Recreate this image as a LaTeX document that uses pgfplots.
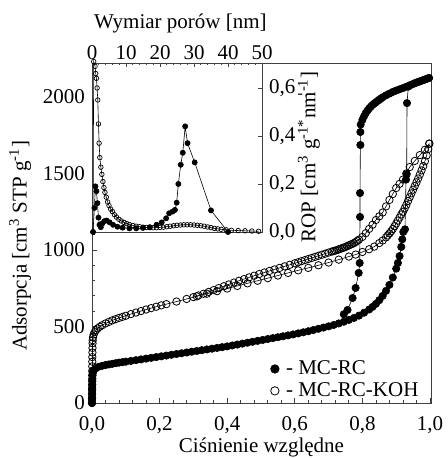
\documentclass[border=0pt]{standalone}
\usepackage{fontspec}
\setmainfont{Liberation Serif}
\usepackage{pgfplots}
\pgfplotsset{compat=1.18}
\newcommand{\fs}{\fontsize{10.5}{12.6}\selectfont}
\begin{document}
\begin{tikzpicture}
% ---------------- main axis ----------------
\begin{axis}[
  at={(0,0)}, anchor=south west,
  scale only axis, width=169.5pt, height=170pt,
  xmin=0, xmax=1.003, ymin=0, ymax=2222,
  xtick={0,0.2,0.4,0.6,0.8,1.0},
  ytick={0,500,1000,1500,2000},
  minor x tick num=4, minor y tick num=4,
  tick align=inside, xtick pos=lower, ytick pos=left,
  major tick length=2.5pt, minor tick length=1.5pt,
  axis line style={black!75}, every tick/.style={black!75},
  /pgf/number format/assume math mode=true,
  xticklabel style={yshift=-3.3pt, /pgf/number format/.cd, fixed, fixed zerofill, precision=1, use comma},
  yticklabel style={/pgf/number format/.cd, 1000 sep={}},
  tick label style={font=\fs},
  label style={font=\fs},
  xlabel={Ciśnienie względne},
  ylabel={Adsorpcja [cm\textsuperscript{3} STP g\textsuperscript{-1}]},
  xlabel style={at={(axis description cs:0.5,-0.13)}, anchor=center},
  ylabel style={at={(axis description cs:-0.212,0.462)}, anchor=center},
  legend style={at={(axis description cs:0.52,-0.008)}, anchor=south west, draw=none, fill=none, font=\fs, row sep=-1.5pt, inner sep=1pt, nodes={inner xsep=3.5pt}},
  legend cell align=left,
]
% MC-RC-KOH adsorption (lower branch)
\addplot[forget plot, black, line width=0.3pt, mark=o, mark size=1.85pt, mark options={fill=white, line width=0.4pt}] coordinates {
(0,0)(0.0001,30)(0.0002,60)(0.0003,90)(0.0004,120)(0.0005,150)(0.0006,180)(0.0007,210)(0.0008,240)(0.0009,270)(0.001,300)(0.0012,330)(0.0014,360)(0.0017,390)
(0.002,410)(0.003,430)(0.005,448)(0.008,463)(0.012,476)(0.017,488)(0.023,498)(0.03,508)(0.04,520)(0.05,530)(0.06,540)(0.07,548)(0.08,556)(0.09,563)(0.10,570)
(0.115,581)(0.13,591)(0.145,601)(0.16,611)(0.175,620)(0.19,629)(0.205,638)(0.22,646)(0.25,663)(0.28,680)(0.31,697)(0.34,714)(0.37,731)(0.40,748)(0.43,765)
(0.46,782)(0.49,799)(0.52,816)(0.55,833)(0.58,850)(0.61,867)(0.64,883)(0.67,900)(0.70,918)(0.73,937)(0.76,957)(0.78,970)(0.80,987)
(0.82,1005)(0.835,1022)(0.85,1045)(0.86,1062)(0.87,1082)(0.875,1095)(0.88,1108)(0.885,1122)(0.89,1137)(0.895,1155)(0.90,1173)(0.905,1192)(0.91,1212)(0.915,1232)
(0.92,1250)(0.925,1272)(0.93,1295)(0.935,1320)(0.94,1345)(0.945,1370)(0.95,1394)(0.955,1418)(0.96,1442)(0.965,1467)(0.97,1493)(0.975,1520)(0.98,1548)(0.985,1580)
(0.99,1618)(0.995,1660)(0.998,1695)};
% MC-RC-KOH desorption (upper branch)
\addplot[forget plot, black, line width=0.3pt, mark=o, mark size=1.85pt, mark options={fill=white, line width=0.4pt}] coordinates {
(0.998,1695)(0.985,1655)(0.97,1620)(0.955,1582)(0.94,1542)(0.93,1500)(0.92,1460)(0.91,1432)(0.90,1405)(0.89,1366)(0.88,1327)(0.87,1285)(0.86,1245)(0.85,1220)
(0.84,1196)(0.83,1165)(0.82,1138)(0.81,1110)(0.80,1085)(0.79,1068)(0.785,1060)(0.78,1052)(0.775,1045)(0.77,1040)(0.765,1035)(0.76,1030)(0.755,1025)(0.75,1020)
(0.745,1016)(0.74,1012)(0.735,1008)(0.73,1004)(0.725,1000)(0.72,996)(0.715,993)(0.71,990)(0.70,983)(0.69,976)(0.68,969)(0.67,962)(0.66,955)(0.65,948)(0.64,941)
(0.63,934)(0.62,927)(0.61,920)(0.60,913)(0.585,903)(0.57,893)(0.555,883)(0.54,873)(0.525,863)(0.51,853)(0.495,843)(0.48,832)(0.465,821)(0.45,810)(0.435,799)
(0.42,787)(0.405,775)(0.39,763)(0.375,751)(0.36,738)(0.345,726)(0.33,714)(0.315,703)(0.30,692)};
% MC-RC adsorption
\addplot[forget plot, black, line width=0.3pt, mark=*, mark size=1.85pt, mark options={fill=black}] coordinates {
(0,0)(0.0001,20)(0.0002,40)(0.0003,60)(0.0004,80)(0.0005,100)(0.0006,120)(0.0008,140)(0.001,160)(0.0015,180)(0.002,195)(0.003,205)
(0.005,215)(0.01,225)(0.02,237)(0.03,243)(0.04,248)(0.05,252)(0.06,256)(0.07,260)(0.08,264)(0.09,267)(0.10,270)(0.115,275)(0.13,280)(0.145,285)(0.16,290)
(0.175,295)(0.19,300)(0.205,305)(0.22,310)(0.235,315)(0.25,320)(0.265,325)(0.28,330)(0.295,335)(0.31,340)(0.325,345)(0.34,350)(0.355,355)(0.37,360)(0.385,365)
(0.40,370)(0.415,376)(0.43,382)(0.445,388)(0.46,394)(0.475,400)(0.49,406)(0.505,412)(0.52,418)(0.535,424)(0.55,430)(0.565,436)(0.58,442)(0.595,448)(0.61,455)
(0.625,462)(0.64,469)(0.655,477)(0.67,485)(0.685,493)(0.70,501)(0.715,510)(0.73,520)(0.745,531)(0.76,543)(0.775,556)(0.79,571)(0.805,590)(0.82,611)(0.83,628)
(0.84,648)(0.85,672)(0.86,700)(0.87,733)(0.88,772)(0.89,820)(0.90,878)(0.905,915)(0.91,960)(0.915,1020)(0.918,1070)(0.921,1118)(0.926,1135)(0.929,1460)
(0.931,1495)(0.932,1960)(0.936,2068)(0.945,2080)(0.955,2090)(0.965,2098)(0.975,2106)(0.985,2114)(0.997,2124)};
% MC-RC desorption
\addplot[forget plot, black, line width=0.3pt, mark=*, mark size=1.85pt, mark options={fill=black}] coordinates {
(0.997,2124)(0.99,2118)(0.98,2110)(0.97,2102)(0.96,2094)(0.95,2085)(0.94,2076)(0.93,2067)(0.92,2058)(0.91,2050)(0.90,2042)(0.89,2033)(0.88,2022)(0.87,2011)
(0.86,1998)(0.855,1990)(0.85,1982)(0.845,1974)(0.84,1965)(0.835,1957)(0.83,1948)(0.825,1937)(0.82,1925)(0.815,1911)(0.81,1895)(0.805,1874)(0.80,1850)(0.795,1820)
(0.794,1771)(0.794,1686)(0.793,1372)(0.793,1216)(0.792,915)(0.789,850)(0.780,752)(0.771,686)(0.756,608)(0.745,580)};
\addlegendimage{only marks, mark=*, mark size=2.1pt, fill=black}
\addlegendentry{- MC-RC}
\addlegendimage{only marks, mark=o, mark size=2.1pt, fill=white}
\addlegendentry{- MC-RC-KOH}
\end{axis}
% ---------------- inset ----------------
\begin{axis}[
  at={(0,85.5pt)}, anchor=south west,
  scale only axis, width=85pt, height=84.5pt,
  xmin=0, xmax=50, ymin=0, ymax=0.704,
  xtick={0,10,20,30,40,50}, ytick={0,0.2,0.4,0.6},
  minor x tick num=4,
  tick align=inside, xtick pos=upper, xticklabel pos=upper, ytick pos=right, yticklabel pos=right,
  major tick length=2pt, minor tick length=1.2pt,
  axis background/.style={fill=white},
  axis line style={black!75}, every tick/.style={black!75},
  /pgf/number format/assume math mode=true,
  xticklabel style={yshift=-2pt},
  yticklabel style={/pgf/number format/.cd, fixed, fixed zerofill, precision=1, use comma},
  tick label style={font=\fs},
  label style={font=\fs},
  xlabel={Wymiar porów [nm]},
  ylabel={ROP [cm\textsuperscript{3} g\textsuperscript{-1*}nm\textsuperscript{-1}]},
  xlabel style={at={(axis description cs:0.52,1.232)}, anchor=center},
  ylabel style={at={(axis description cs:1.276,0.444)}, anchor=center, rotate=0},
  clip=false,
]
% MC-RC-KOH PSD
\addplot[black, line width=0.3pt, mark=o, mark size=1.15pt, mark options={fill=white, line width=0.35pt}] coordinates {
(0.3,0.0)(0.5,0.71)(0.9,0.69)(1.1,0.66)(1.3,0.64)(1.5,0.60)(1.7,0.55)(1.9,0.45)(2.1,0.37)(2.3,0.31)(2.6,0.27)(2.9,0.24)(3.2,0.21)(3.5,0.185)(3.8,0.165)
(4.2,0.145)(4.6,0.125)(5.0,0.11)(5.5,0.095)(6.0,0.085)(6.6,0.072)(7.2,0.062)(7.9,0.053)(8.6,0.046)(9.4,0.04)(10.2,0.035)(11,0.031)(12,0.027)(13,0.024)
(14,0.022)(15,0.02)(16,0.019)(17,0.018)(18,0.018)(19,0.018)(20,0.019)(21,0.02)(22,0.022)(23,0.024)(24,0.026)(25,0.028)(26,0.029)(27,0.03)(28,0.03)(29,0.03)
(30,0.029)(31,0.028)(32,0.026)(33,0.024)(34,0.021)(35,0.018)(36,0.015)(37,0.013)(38,0.011)(39.5,0.009)(41,0.007)(43,0.006)(45,0.005)(47,0.004)(49,0.003)};
% MC-RC PSD
\addplot[black, line width=0.3pt, mark=*, mark size=1.3pt, mark options={fill=black}] coordinates {
(0.3,0.0)(0.7,0.1)(1.0,0.19)(1.3,0.17)(1.6,0.12)(1.9,0.06)(2.2,0.03)(2.6,0.02)(3.0,0.035)(3.6,0.045)(4.3,0.048)(5.2,0.04)(6.2,0.03)(7.5,0.022)(9,0.018)
(11,0.015)(13,0.015)(15,0.017)(17,0.02)(19,0.03)(20.5,0.04)(21.8,0.057)(22.7,0.078)(23.7,0.085)(24.4,0.092)(24.9,0.122)(25.4,0.20)(26.1,0.28)(26.7,0.33)
(27.4,0.44)(28.1,0.37)(30.2,0.29)(35,0.09)(40,0.0)};
\node[font=\fontsize{8}{9}\selectfont] at (rel axis cs:1.225,0.80) {-};
\end{axis}
\pgfresetboundingbox
\useasboundingbox (-46pt,-27.5pt) rectangle (177.5pt,201.5pt);
\end{tikzpicture}
\end{document}
